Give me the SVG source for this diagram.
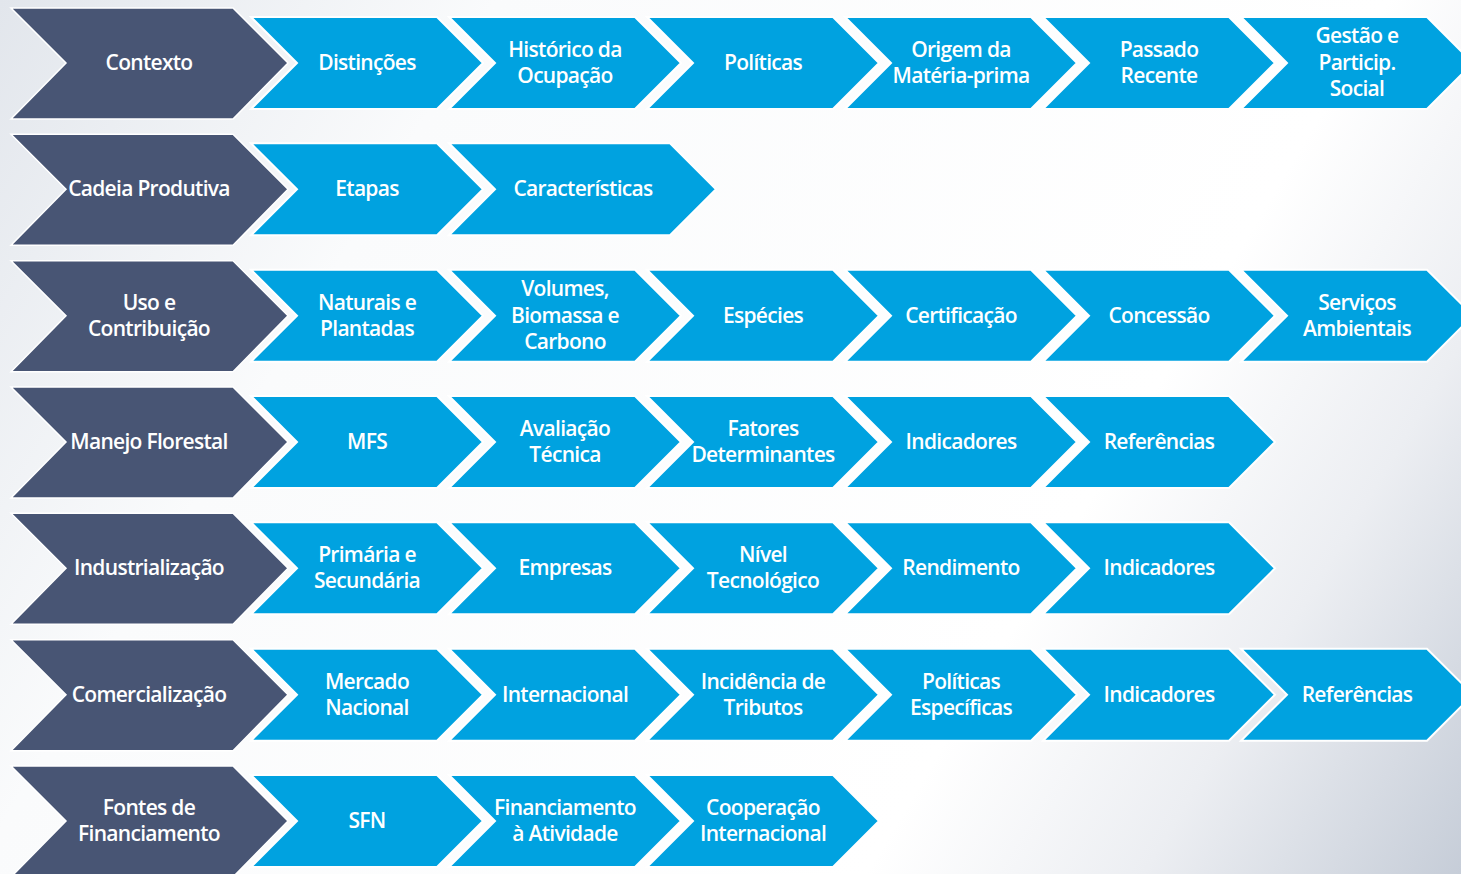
<svg xmlns="http://www.w3.org/2000/svg" width="1461" height="874" viewBox="0 0 1461 874">
<defs>
<linearGradient id="bg" gradientUnits="userSpaceOnUse" x1="0" y1="0" x2="1461" y2="874">
<stop offset="0" stop-color="#e2e6ec"/>
<stop offset="0.25" stop-color="#fafbfc"/>
<stop offset="0.7" stop-color="#ffffff"/>
<stop offset="0.84" stop-color="#eceef2"/>
<stop offset="1" stop-color="#c6cdd8"/>
</linearGradient>
<polygon id="dk" points="11,-55 233,-55 288,0 233,56 11,56 66,0"/>
<polygon id="bl" points="-1,-46 185,-46 231,0 185,46 -1,46 45,0"/>
<polygon id="blw" points="-1,-46 220,-46 266,0 220,46 -1,46 45,0"/>
</defs>
<style>
.d{fill:#485574;stroke:#ffffff;stroke-width:1.5}
.b{fill:#00a2e0;stroke:#ffffff;stroke-width:2}
text{font-family:"Open Sans","Noto Sans",sans-serif;font-size:21px;font-weight:600;fill:#ffffff;text-anchor:middle;letter-spacing:-0.7px}
</style>
<rect width="1461" height="874" fill="url(#bg)"/>
<g id="connectors"></g>

<!-- Row 1 -->
<g id="r1-contexto" transform="translate(0,63)"><use href="#dk" class="d"/><text x="149" y="7">Contexto</text></g>
<g id="r1-distincoes" transform="translate(252,63)"><use href="#bl" class="b"/><text x="115" y="7">Distinções</text></g>
<g id="r1-historico" transform="translate(450,63)"><use href="#bl" class="b"/><text x="115" y="-6">Histórico da</text><text x="115" y="20">Ocupação</text></g>
<g id="r1-politicas" transform="translate(648,63)"><use href="#bl" class="b"/><text x="115" y="7">Políticas</text></g>
<g id="r1-origem" transform="translate(846,63)"><use href="#bl" class="b"/><text x="115" y="-6">Origem da</text><text x="115" y="20">Matéria-prima</text></g>
<g id="r1-passado" transform="translate(1044,63)"><use href="#bl" class="b"/><text x="115" y="-6">Passado</text><text x="115" y="20">Recente</text></g>
<g id="r1-gestao" transform="translate(1242,63)"><use href="#bl" class="b"/><text x="115" y="-20">Gestão e</text><text x="115" y="7">Particip.</text><text x="115" y="33">Social</text></g>

<!-- Row 2 -->
<g id="r2-cadeia" transform="translate(0,189.3)"><use href="#dk" class="d"/><text x="149" y="7">Cadeia Produtiva</text></g>
<g id="r2-etapas" transform="translate(252,189.3)"><use href="#bl" class="b"/><text x="115" y="7">Etapas</text></g>
<g id="r2-caracteristicas" transform="translate(450,189.3)"><use href="#blw" class="b"/><text x="133" y="7">Características</text></g>

<!-- Row 3 -->
<g id="r3-uso" transform="translate(0,315.7)"><use href="#dk" class="d"/><text x="149" y="-6">Uso e</text><text x="149" y="20">Contribuição</text></g>
<g id="r3-naturais" transform="translate(252,315.7)"><use href="#bl" class="b"/><text x="115" y="-6">Naturais e</text><text x="115" y="20">Plantadas</text></g>
<g id="r3-volumes" transform="translate(450,315.7)"><use href="#bl" class="b"/><text x="115" y="-20">Volumes,</text><text x="115" y="7">Biomassa e</text><text x="115" y="33">Carbono</text></g>
<g id="r3-especies" transform="translate(648,315.7)"><use href="#bl" class="b"/><text x="115" y="7">Espécies</text></g>
<g id="r3-certificacao" transform="translate(846,315.7)"><use href="#bl" class="b"/><text x="115" y="7">Certificação</text></g>
<g id="r3-concessao" transform="translate(1044,315.7)"><use href="#bl" class="b"/><text x="115" y="7">Concessão</text></g>
<g id="r3-servicos" transform="translate(1242,315.7)"><use href="#bl" class="b"/><text x="115" y="-6">Serviços</text><text x="115" y="20">Ambientais</text></g>

<!-- Row 4 -->
<g id="r4-manejo" transform="translate(0,442)"><use href="#dk" class="d"/><text x="149" y="7">Manejo Florestal</text></g>
<g id="r4-mfs" transform="translate(252,442)"><use href="#bl" class="b"/><text x="115" y="7">MFS</text></g>
<g id="r4-avaliacao" transform="translate(450,442)"><use href="#bl" class="b"/><text x="115" y="-6">Avaliação</text><text x="115" y="20">Técnica</text></g>
<g id="r4-fatores" transform="translate(648,442)"><use href="#bl" class="b"/><text x="115" y="-6">Fatores</text><text x="115" y="20">Determinantes</text></g>
<g id="r4-indicadores" transform="translate(846,442)"><use href="#bl" class="b"/><text x="115" y="7">Indicadores</text></g>
<g id="r4-referencias" transform="translate(1044,442)"><use href="#bl" class="b"/><text x="115" y="7">Referências</text></g>

<!-- Row 5 -->
<g id="r5-industrializacao" transform="translate(0,568.3)"><use href="#dk" class="d"/><text x="149" y="7">Industrialização</text></g>
<g id="r5-primaria" transform="translate(252,568.3)"><use href="#bl" class="b"/><text x="115" y="-6">Primária e</text><text x="115" y="20">Secundária</text></g>
<g id="r5-empresas" transform="translate(450,568.3)"><use href="#bl" class="b"/><text x="115" y="7">Empresas</text></g>
<g id="r5-nivel" transform="translate(648,568.3)"><use href="#bl" class="b"/><text x="115" y="-6">Nível</text><text x="115" y="20">Tecnológico</text></g>
<g id="r5-rendimento" transform="translate(846,568.3)"><use href="#bl" class="b"/><text x="115" y="7">Rendimento</text></g>
<g id="r5-indicadores" transform="translate(1044,568.3)"><use href="#bl" class="b"/><text x="115" y="7">Indicadores</text></g>

<!-- Row 6 -->
<g id="r6-comercializacao" transform="translate(0,694.7)"><use href="#dk" class="d"/><text x="149" y="7">Comercialização</text></g>
<g id="r6-mercado" transform="translate(252,694.7)"><use href="#bl" class="b"/><text x="115" y="-6">Mercado</text><text x="115" y="20">Nacional</text></g>
<g id="r6-internacional" transform="translate(450,694.7)"><use href="#bl" class="b"/><text x="115" y="7">Internacional</text></g>
<g id="r6-incidencia" transform="translate(648,694.7)"><use href="#bl" class="b"/><text x="115" y="-6">Incidência de</text><text x="115" y="20">Tributos</text></g>
<g id="r6-politicas" transform="translate(846,694.7)"><use href="#bl" class="b"/><text x="115" y="-6">Políticas</text><text x="115" y="20">Específicas</text></g>
<g id="r6-indicadores" transform="translate(1044,694.7)"><use href="#bl" class="b"/><text x="115" y="7">Indicadores</text></g>
<g id="r6-referencias" transform="translate(1242,694.7)"><use href="#bl" class="b"/><text x="115" y="7">Referências</text></g>

<!-- Row 7 -->
<g id="r7-fontes" transform="translate(0,821)"><use href="#dk" class="d"/><text x="149" y="-6">Fontes de</text><text x="149" y="20">Financiamento</text></g>
<g id="r7-sfn" transform="translate(252,821)"><use href="#bl" class="b"/><text x="115" y="7">SFN</text></g>
<g id="r7-financiamento" transform="translate(450,821)"><use href="#bl" class="b"/><text x="115" y="-6">Financiamento</text><text x="115" y="20">à Atividade</text></g>
<g id="r7-cooperacao" transform="translate(648,821)"><use href="#bl" class="b"/><text x="115" y="-6">Cooperação</text><text x="115" y="20">Internacional</text></g>
</svg>
